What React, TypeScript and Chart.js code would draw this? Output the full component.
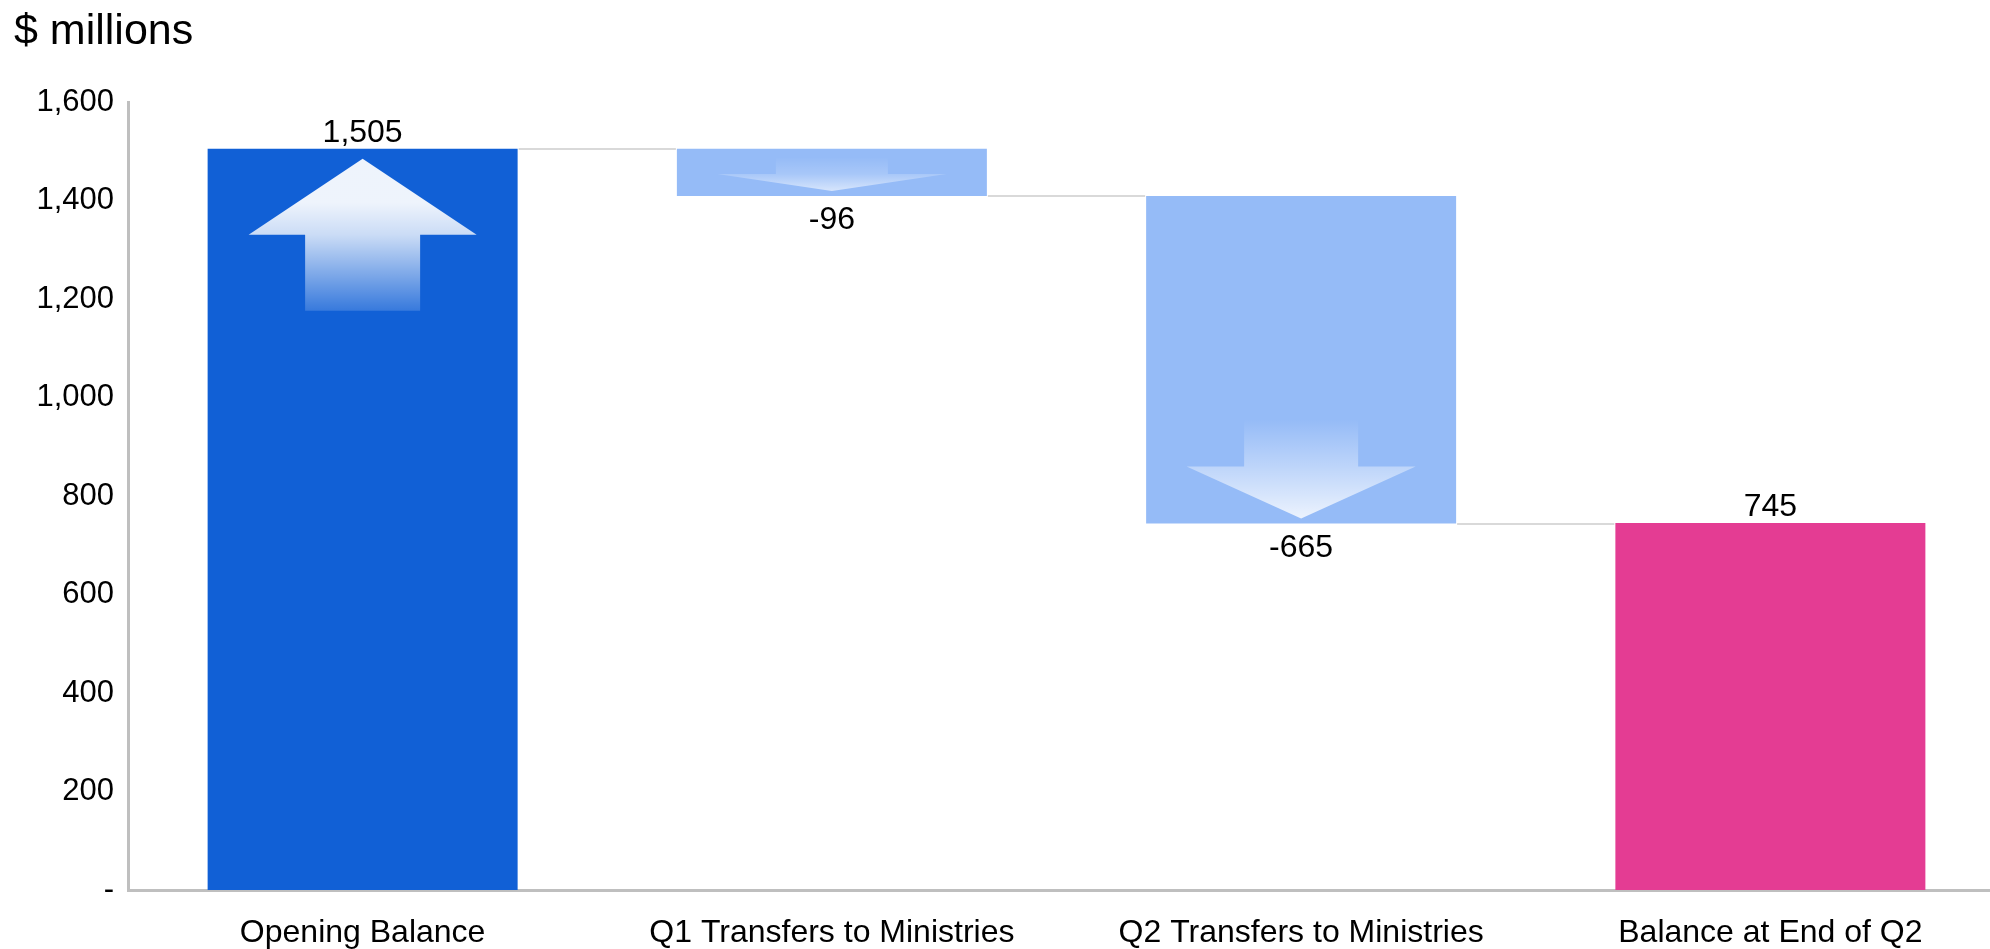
import React, { useEffect, useRef } from 'react';
import { Chart, registerables } from 'chart.js';

Chart.register(...registerables);

// ---- data ----
const categories = [
  'Opening Balance',
  'Q1 Transfers to Ministries',
  'Q2 Transfers to Ministries',
  'Balance at End of Q2',
];
const amounts = [1505, -96, -665, 745];
const isTotal = [true, false, false, true];
const yMin = 0;
const yMax = 1600;
const yStep = 200;
const zeroTickLabel = '-';
const unitTitle = '$ millions';

// ---- style ----
const barColors = ['#1160D6', '#95BBF7', '#95BBF7', '#E43C93'];
const FONT = '"Liberation Sans", Arial, sans-serif';
const AXIS_GREY = '#BFBFBF';
const CONNECTOR_GREY = '#D9D9D9';
// decorative arrows inside bars (pixel offsets relative to the bar rectangle)
const arrowStyles: any[] = [
  { dir: 'up', headW: 228, shaftW: 115, tip: 10, headBase: 86, shaftEnd: 162 },
  { dir: 'down', headW: 229, shaftW: 112, tip: 5, headBase: 22, shaftEnd: 39, aEnd: 0, aBase: 0.18, aTip: 0.62 },
  { dir: 'down', headW: 229, shaftW: 114, tip: 5, headBase: 57, shaftEnd: 104, aEnd: 0, aBase: 0.38, aTip: 0.82 },
  null,
];

function buildRanges() {
  const ranges: [number, number][] = [];
  const levels: number[] = [];
  let running = 0;
  amounts.forEach((a, i) => {
    if (isTotal[i]) {
      ranges.push([0, a]);
      running = a;
    } else {
      const next = running + a;
      ranges.push([Math.min(running, next), Math.max(running, next)]);
      running = next;
    }
    levels.push(running);
  });
  return { ranges, levels };
}

const waterfallPlugin = {
  id: 'waterfallDecor',
  afterDatasetsDraw(chart: any) {
    const { ctx } = chart;
    const meta = chart.getDatasetMeta(0);
    const yScale = chart.scales.y;
    const { levels } = buildRanges();
    const bars = meta.data.map((el: any) => el.getProps(['x', 'y', 'base', 'width'], true));

    ctx.save();
    // arrows
    bars.forEach((b: any, i: number) => {
      const st = arrowStyles[i];
      if (!st) return;
      const top = Math.min(b.y, b.base);
      const bottom = Math.max(b.y, b.base);
      const cx = b.x;
      let tipY, baseY, endY;
      if (st.dir === 'up') {
        tipY = top + st.tip;
        baseY = top + st.headBase;
        endY = top + st.shaftEnd;
      } else {
        tipY = bottom - st.tip;
        baseY = bottom - st.headBase;
        endY = bottom - st.shaftEnd;
      }
      let g;
      if (st.dir === 'up') {
        g = ctx.createLinearGradient(0, tipY, 0, endY);
        g.addColorStop(0, 'rgba(255,255,255,0.93)');
        g.addColorStop(0.29, 'rgba(255,255,255,0.93)');
        g.addColorStop(0.5, 'rgba(255,255,255,0.78)');
        g.addColorStop(1, 'rgba(255,255,255,0.16)');
      } else {
        g = ctx.createLinearGradient(0, endY, 0, tipY);
        const mid = (baseY - endY) / (tipY - endY);
        g.addColorStop(0, `rgba(255,255,255,${st.aEnd})`);
        g.addColorStop(mid, `rgba(255,255,255,${st.aBase})`);
        g.addColorStop(1, `rgba(255,255,255,${st.aTip})`);
      }
      ctx.fillStyle = g;
      ctx.beginPath();
      ctx.moveTo(cx, tipY);
      ctx.lineTo(cx + st.headW / 2, baseY);
      ctx.lineTo(cx + st.shaftW / 2, baseY);
      ctx.lineTo(cx + st.shaftW / 2, endY);
      ctx.lineTo(cx - st.shaftW / 2, endY);
      ctx.lineTo(cx - st.shaftW / 2, baseY);
      ctx.lineTo(cx - st.headW / 2, baseY);
      ctx.closePath();
      ctx.fill();
    });

    // connectors
    ctx.strokeStyle = CONNECTOR_GREY;
    ctx.lineWidth = 2;
    for (let i = 0; i < bars.length - 1; i++) {
      const y = Math.round(yScale.getPixelForValue(levels[i]));
      const x1 = bars[i].x + bars[i].width / 2 + 1;
      const x2 = bars[i + 1].x - bars[i + 1].width / 2 - 1;
      ctx.beginPath();
      ctx.moveTo(x1, y);
      ctx.lineTo(x2, y);
      ctx.stroke();
    }

    // value labels
    ctx.fillStyle = '#000';
    ctx.font = `32px ${FONT}`;
    ctx.textAlign = 'center';
    ctx.textBaseline = 'alphabetic';
    bars.forEach((b: any, i: number) => {
      const top = Math.min(b.y, b.base);
      const bottom = Math.max(b.y, b.base);
      const txt = amounts[i].toLocaleString('en-US');
      if (amounts[i] >= 0) ctx.fillText(txt, b.x, top - 7);
      else ctx.fillText(txt, b.x, bottom + 33);
    });
    ctx.restore();
  },
};

export default function App() {
  const ref = useRef<HTMLCanvasElement>(null);
  useEffect(() => {
    if (!ref.current) return;
    const { ranges } = buildRanges();
    const chart = new Chart(ref.current, {
      type: 'bar',
      data: {
        labels: categories,
        datasets: [
          {
            data: ranges as any,
            backgroundColor: barColors,
            borderWidth: 0,
            borderSkipped: false,
            categoryPercentage: 1,
            barPercentage: 310 / 469.25,
          },
        ],
      },
      options: {
        animation: false,
        responsive: false,
        devicePixelRatio: 1,
        layout: { padding: { left: 14, right: 0, top: 0, bottom: 0 } },
        plugins: {
          legend: { display: false },
          tooltip: { enabled: false },
          title: {
            display: true,
            text: unitTitle,
            align: 'start',
            color: '#000',
            font: { family: FONT, size: 43, weight: 'normal' as any, lineHeight: 1.2 },
            padding: { top: 6, bottom: 44.4 },
          },
        },
        scales: {
          x: {
            z: 1,
            grid: { display: false, drawTicks: false },
            border: { display: true, color: AXIS_GREY, width: 3 },
            ticks: {
              color: '#000',
              font: { family: FONT, size: 32 },
              padding: 24,
              maxRotation: 0,
              autoSkip: false,
            },
            afterFit(scale: any) {
              scale.height = 59;
            },
          },
          y: {
            z: 1,
            min: yMin,
            max: yMax,
            grid: { display: false, drawTicks: false },
            border: { display: true, color: AXIS_GREY, width: 3 },
            ticks: {
              stepSize: yStep,
              color: '#000',
              font: { family: FONT, size: 31 },
              padding: 14,
              callback: (v: any) => (Number(v) === 0 ? zeroTickLabel : Number(v).toLocaleString('en-US')),
            },
            afterFit(scale: any) {
              scale.width = 114;
            },
          },
        },
      },
      plugins: [waterfallPlugin],
    });
    return () => chart.destroy();
  }, []);

  return (
    <div
      style={{
        position: 'absolute',
        left: 0,
        top: 0,
        width: 1990,
        height: 949,
        overflow: 'hidden',
        background: '#fff',
      }}
    >
      <canvas ref={ref} width={2005} height={949} style={{ display: 'block', width: 2005, height: 949 }} />
    </div>
  );
}
